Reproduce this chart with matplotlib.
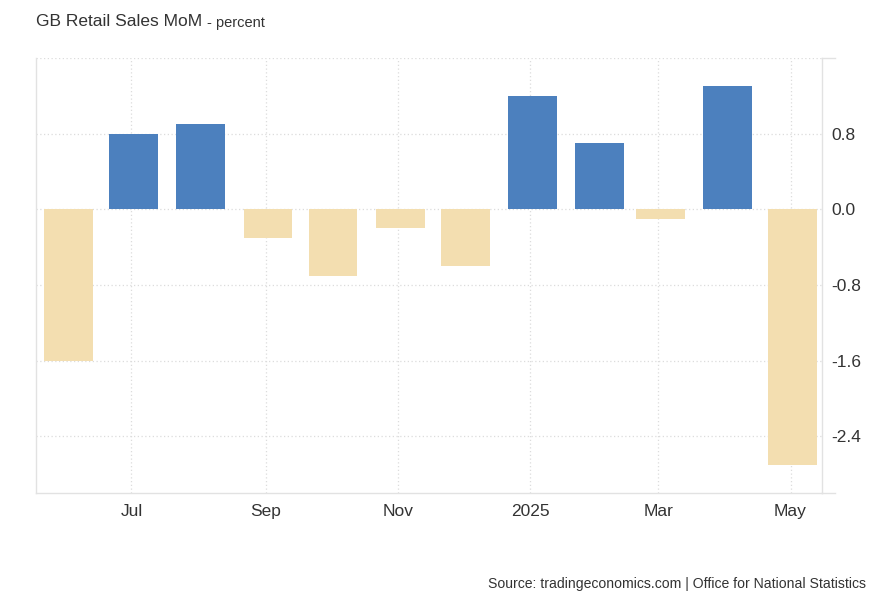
import pandas as pd
import numpy as np
import matplotlib.pyplot as plt
import matplotlib.dates as mdates

plt.rcParams['font.family'] = ['Liberation Sans', 'DejaVu Sans']

months = pd.date_range('2024-06-01', '2025-05-01', freq='MS')
values = [-1.6, 0.8, 0.9, -0.3, -0.7, -0.2, -0.6, 1.2, 0.7, -0.1, 1.3, -2.7]
tick_dates = ['2024-07-01', '2024-09-01', '2024-11-01', '2025-01-01', '2025-03-01', '2025-05-01']
tick_labels = ['Jul', 'Sep', 'Nov', '2025', 'Mar', 'May']
y_ticks = [0.8, 0.0, -0.8, -1.6, -2.4]

blue = '#4c80be'
beige = '#f3deb0'
grid_c = '#dcdcdc'
text_c = '#333333'

fig = plt.figure(figsize=(8.82, 6.03), dpi=100)
ax = fig.add_axes([36/882, 1-493/603, (822-36)/882, (493-58)/603])

colors = [blue if v >= 0 else beige for v in values]
# bars sit just after the month start
ax.bar(months + pd.Timedelta(days=1), values, width=22.5, color=colors, zorder=3)

ax.set_xlim(pd.Timestamp('2024-05-18'), pd.Timestamp('2025-05-15 12:00'))
ax.set_ylim(-3.0, 1.6)

ax.set_xticks(pd.to_datetime(tick_dates))
ax.set_xticklabels(tick_labels)
ax.set_yticks(y_ticks + [1.6])
ax.set_yticklabels(['0.8', '0.0', '-0.8', '-1.6', '-2.4', ''])
ax.yaxis.tick_right()
ax.tick_params(axis='both', length=0, labelsize=12.5, colors=text_c)
ax.tick_params(axis='y', pad=7)
ax.tick_params(axis='x', pad=8)

ax.grid(True, linestyle=(0, (1, 2)), color=grid_c, linewidth=0.9, zorder=0)

ax.spines['top'].set_visible(False)
for s in ['left', 'right', 'bottom']:
    ax.spines[s].set_color('#e2e2e2')
    ax.spines[s].set_linewidth(1.0)

# short stubs past the right axis
for yy in [1.6, -3.0]:
    ax.plot([1.0, 1.016], [yy, yy], transform=ax.get_yaxis_transform(), color='#e2e2e2',
            linewidth=1.0, clip_on=False)

fig.text(36/882, 1-22/603, 'GB Retail Sales MoM', fontsize=12.5, color=text_c, va='center')
fig.text(207/882, 1-23/603, '- percent', fontsize=10.5, color=text_c, va='center')
fig.text(866/882, 1-584/603, 'Source: tradingeconomics.com | Office for National Statistics',
         fontsize=10.1, color=text_c, ha='right', va='center')

plt.savefig('out.png', dpi=100)
